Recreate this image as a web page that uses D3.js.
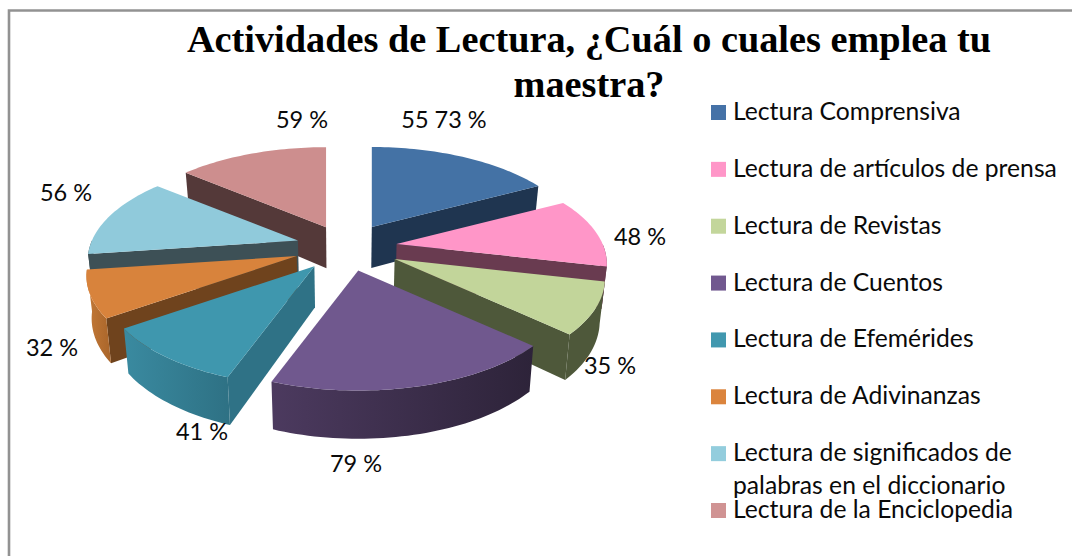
<!DOCTYPE html>
<html><head><meta charset="utf-8">
<style>html,body{margin:0;padding:0;background:#fff}svg{display:block}</style>
<script src="https://cdn.jsdelivr.net/npm/d3@7"></script></head>
<body><svg id="c" width="1072" height="556"></svg>
<script>
const categories = ["Lectura Comprensiva","Lectura de artículos de prensa","Lectura de Revistas","Lectura de Cuentos","Lectura de Efemérides","Lectura de Adivinanzas","Lectura de significados de|palabras en el diccionario","Lectura de la Enciclopedia"];
const values = [73,48,35,79,41,32,56,59];
const valueLabels = ["55 73 %","48 %","35 %","79 %","41 %","32 %","56 %","59 %"];
const titleLines = ["Actividades de Lectura, ¿Cuál o cuales emplea tu","maestra?"];
const legendColors = ["#4572A7","#FF96C8","#C3D69B","#71588F","#4198AF","#DB843D","#93CDDD","#D09393"];
const topColors = ["#4472a5","#ff96c8","#c2d59a","#70588e","#3f97ae","#d8833c","#90cadb","#cd8e8e"];
const edgeColors = ["#1f3550","#693b50","#4e583a","#2d2339","#2f7286","#6f431d","#3d5056","#543939"];
const rimLeft = ["#1f3550","#693b50","#4e583a","#4c3a5f","#3a8aa0","#c47a38","#3d5056","#543939"];
const rimRight = ["#1f3550","#693b50","#4e583a","#2d2339","#2e7184","#a9652a","#3d5056","#543939"];
const paintOrder = [7,0,6,1,5,2,4,3];
const labelAnchors = [[444,120],[640,237],[610,366],[356,464],[202,432],[52,348],[66,193],[302,120]];
const explodeBy = [50,51,55,52,52,53,50,47];

const svg = d3.select("#c");
const defs = svg.append("defs");
const cx=346, cy=247, R=206, T=96, k=0.2, tiltY=T/R, D=41, kD=0.15, converge=0.98;

svg.append("path").attr("d","M9,556V10.5H1072").attr("fill","none").attr("stroke","#929292").attr("stroke-width",2.6);

const arcs = d3.pie().sort(null).value(d=>d)(values);

function project(a, r, off){
  const s=1+k*r*Math.cos(a);
  return [cx+off[0]+R*r*Math.sin(a)/s, cy+off[1]-T*r*Math.cos(a)/s];
}
function drop(p, a, r){
  const d=D/(1+kD*r*Math.cos(a));
  return [cx+(p[0]-cx)*converge, p[1]+d];
}
const line=d3.line();
function sample(a0,a1){ const n=Math.max(2,Math.ceil((a1-a0)*40)); return d3.range(n+1).map(i=>a0+(a1-a0)*i/n); }

paintOrder.forEach(i=>{
  const d=arcs[i], a0=d.startAngle, a1=d.endAngle, mid=(a0+a1)/2, explode=explodeBy[i];
  const off=[explode*Math.sin(mid), -explode*tiltY*Math.cos(mid)];
  const g=svg.append("g").attr("class","slice");
  const apex=project(0,0,off), apexB=drop(apex,0,0);
  const wall=a=>{
    const p=project(a,1,off);
    g.append("path").attr("d",line([apex,p,drop(p,a,1),apexB])+"Z").attr("fill",edgeColors[i]);
  };
  if(Math.sin(a1)>0) wall(a1);
  if(Math.sin(a0)<0) wall(a0);
  const fa=Math.max(a0,Math.PI/2), fb=Math.min(a1,Math.PI*1.5);
  if(fb>fa){
    const id="rim"+i, lg=defs.append("linearGradient").attr("id",id);
    lg.append("stop").attr("offset",0).attr("stop-color",rimLeft[i]);
    lg.append("stop").attr("offset",1).attr("stop-color",rimRight[i]);
    const ang=sample(fa,fb), tp=ang.map(a=>project(a,1,off)), bt=ang.map(a=>drop(project(a,1,off),a,1));
    g.append("path").attr("d",line(tp.concat(bt.reverse()))+"Z").attr("fill",`url(#${id})`);
  }
  g.append("path").attr("d",line([apex].concat(sample(a0,a1).map(a=>project(a,1,off))))+"Z").attr("fill",topColors[i]);
});

const title=svg.append("g").attr("font-family","'Liberation Serif'").attr("font-weight","bold").attr("font-size",38.3).attr("text-anchor","middle").attr("fill","#000");
titleLines.forEach((t,i)=>title.append("text").attr("x",589).attr("y",52+45*i).text(t));

svg.append("g").attr("font-family","Lato").attr("font-size",23.5).attr("text-anchor","middle").attr("fill","#0a0a0a")
  .selectAll("text").data(valueLabels).join("text")
  .attr("x",(d,i)=>labelAnchors[i][0]).attr("y",(d,i)=>labelAnchors[i][1]+8).text(d=>d);

const legendY=d3.scalePoint().domain(d3.range(categories.length)).range([105,503]);
const leg=svg.append("g").attr("font-family","Lato").attr("font-size",24.7).attr("fill","#0a0a0a");
categories.forEach((c,i)=>{
  leg.append("rect").attr("x",711).attr("y",legendY(i)).attr("width",15).attr("height",15).attr("fill",legendColors[i]);
  c.split("|").forEach((t,j)=>leg.append("text").attr("x",733).attr("y",legendY(i)+15+j*33).text(t));
});
</script></body></html>
